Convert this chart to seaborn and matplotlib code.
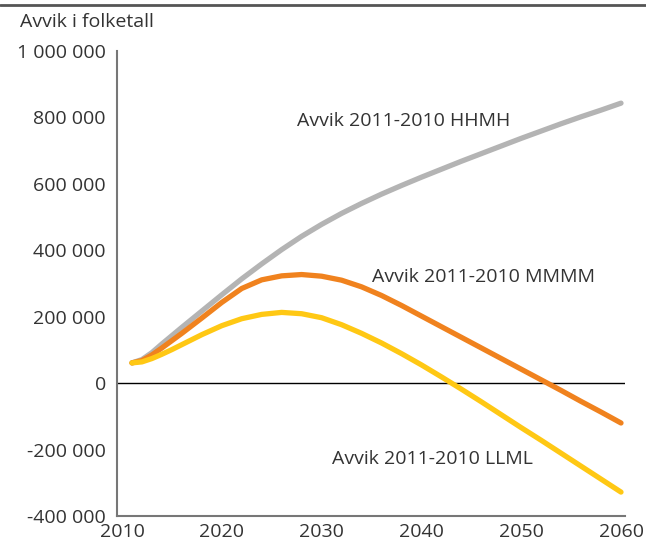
import matplotlib
matplotlib.use("Agg")
import matplotlib.pyplot as plt
import seaborn as sns
import pandas as pd
from matplotlib.lines import Line2D

years = [2011, 2012, 2013, 2014, 2015, 2016, 2018, 2020, 2022, 2024, 2026, 2028,
         2030, 2032, 2034, 2036, 2038, 2040, 2042, 2044, 2046, 2048, 2050, 2052,
         2054, 2056, 2058, 2060]
hhmh = [61, 71, 92, 118, 143, 168, 217, 266, 314, 359, 402, 442,
        478, 511, 541, 569, 595, 620, 644, 668, 691, 714, 737, 759,
        781, 802, 822, 843]
mmmm = [61, 68, 85, 106, 128, 150, 196, 243, 285, 311, 323, 327,
        322, 310, 290, 264, 234, 202, 170, 138, 106, 74, 42, 10,
        -22, -55, -87, -120]
llml = [61, 64, 74, 87, 101, 116, 146, 173, 194, 207, 213, 209,
        197, 176, 150, 121, 89, 55, 19, -18, -56, -95, -134, -172,
        -211, -250, -289, -328]
series_names = ["Avvik 2011-2010 HHMH", "Avvik 2011-2010 MMMM", "Avvik 2011-2010 LLML"]
colors = ["#b4b4b4", "#f0821e", "#ffc814"]
y_ticks = [-400000, -200000, 0, 200000, 400000, 600000, 800000, 1000000]
y_tick_labels = ["-400 000", "-200 000", "0", "200 000", "400 000", "600 000", "800 000", "1 000 000"]
x_ticks = [2010, 2020, 2030, 2040, 2050, 2060]
y_title = "Avvik i folketall"

rows = []
for name, vals in zip(series_names, [hhmh, mmmm, llml]):
    for y, v in zip(years, vals):
        rows.append({"År": y, "Avvik": v * 1000, "Serie": name})
df = pd.DataFrame(rows)

sns.set_theme(style="white")
plt.rcParams['font.family'] = ['Open Sans', 'DejaVu Sans']

W, H = 646, 544
fig = plt.figure(figsize=(W / 100, H / 100), dpi=100)
ax = fig.add_axes([117 / W, 1 - 516 / H, (625 - 117) / W, (516 - 51) / H])

sns.lineplot(data=df, x="År", y="Avvik", hue="Serie", hue_order=series_names,
             palette=colors, lw=3.8, solid_capstyle="round", solid_joinstyle="round",
             legend=False, ax=ax)

ax.set_xlim(2009.5, 2060.4)
ax.set_ylim(-400000, 1000000)
ax.axhline(0, color="black", lw=1.0, zorder=1)

ax.set_yticks(y_ticks)
ax.set_yticklabels(y_tick_labels)
ax.set_xticks(x_ticks)
ax.set_xticks(list(range(2010, 2061, 5)), minor=True)
ax.tick_params(axis="both", which="both", direction="in", colors="#444444",
               labelcolor="#333333", labelsize=14)
ax.tick_params(axis="y", which="major", length=8, width=1.0, pad=8)
ax.tick_params(axis="x", which="both", length=9, width=1.0, pad=5)
ax.set_xlabel("")
ax.set_ylabel("")

for s in ["top", "right"]:
    ax.spines[s].set_visible(False)
for s in ["left", "bottom"]:
    ax.spines[s].set_color("#777777")
    ax.spines[s].set_linewidth(1.5)

ax.text(2027.5, 789000, series_names[0], fontsize=14, color="#333333", va="center", ha="left")
ax.text(2035.05, 321000, series_names[1], fontsize=14, color="#333333", va="center", ha="left")
ax.text(2031.0, -229000, series_names[2], fontsize=14, color="#333333", va="center", ha="left")

fig.text(20 / W, 1 - 22 / H, y_title, fontsize=14, color="#333333", va="center", ha="left")
fig.add_artist(Line2D([0, 1], [1 - 5 / H, 1 - 5 / H], color="#555555", lw=2.0,
                      transform=fig.transFigure))

fig.savefig("out.png", dpi=100)
